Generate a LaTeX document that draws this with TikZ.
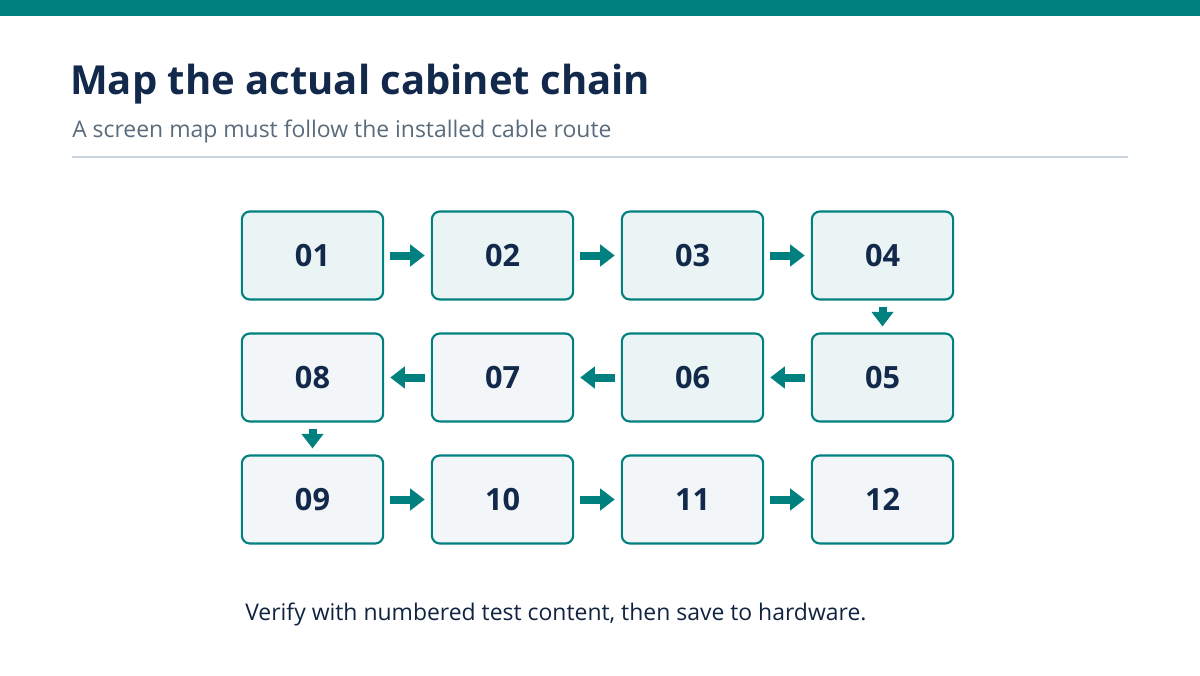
\documentclass[tikz,border=0pt]{standalone}
\usepackage{fontspec}
\setmainfont{Open Sans}
\usetikzlibrary{arrows.meta}
\definecolor{teal0}{HTML}{00807F}
\definecolor{navy}{HTML}{13294B}
\definecolor{subgray}{HTML}{5A6B7B}
\definecolor{rulegray}{HTML}{CBD5E0}
\definecolor{fillA}{HTML}{EAF4F4}
\definecolor{fillB}{HTML}{F3F6F8}
\tikzset{
  cab/.style={draw=teal0, line width=1.6pt, rounded corners=6pt, minimum width=106pt, minimum height=66pt,
    font=\fontsize{23}{27}\selectfont\bfseries, text=navy, text depth=0pt},
  cabA/.style={cab, fill=fillA},
  cabB/.style={cab, fill=fillB},
  link/.style={draw=teal0, line width=6pt, -{Triangle[length=11pt,width=16pt]}, shorten <=4.5pt, shorten >=4.5pt}
}
\begin{document}
\begin{tikzpicture}[x=0.75pt,y=-0.75pt]

        %===========================
        % Frame
        %===========================
        \useasboundingbox (0,0) rectangle (1200,675);
        \fill[white] (0,0) rectangle (1200,675);
        \fill[teal0] (0,0) rectangle (1200,16);
        \node (title) [anchor=west, text=navy, font=\fontsize{30}{36}\selectfont\bfseries, inner sep=0pt] at (70,84) {Map the actual cabinet chain};
        \node (sub) [anchor=west, text=subgray, font=\fontsize{17.2}{20}\selectfont, inner sep=0pt] at (72,131) {A screen map must follow the installed cable route};
        \draw[rulegray, line width=1.2pt] (72,157) -- (1128,157);

        %===========================
        % Cabinets
        %===========================
        \node (c01) [cabA] at (312.5,255.5) {01};
        \node (c02) [cabA] at (502.5,255.5) {02};
        \node (c03) [cabA] at (692.5,255.5) {03};
        \node (c04) [cabA] at (882.5,255.5) {04};

        \node (c05) [cabA] at (882.5,377.5) {05};
        \node (c06) [cabA] at (692.5,377.5) {06};
        \node (c07) [cabB] at (502.5,377.5) {07};
        \node (c08) [cabB] at (312.5,377.5) {08};

        \node (c09) [cabB] at (312.5,499.5) {09};
        \node (c10) [cabB] at (502.5,499.5) {10};
        \node (c11) [cabB] at (692.5,499.5) {11};
        \node (c12) [cabB] at (882.5,499.5) {12};

        %===========================
        % Cable route
        %===========================
        \draw[link] (c01) -- (c02);
        \draw[link] (c02) -- (c03);
        \draw[link] (c03) -- (c04);
        \draw[link] (c04) -- (c05);
        \draw[link] (c05) -- (c06);
        \draw[link] (c06) -- (c07);
        \draw[link] (c07) -- (c08);
        \draw[link] (c08) -- (c09);
        \draw[link] (c09) -- (c10);
        \draw[link] (c10) -- (c11);
        \draw[link] (c11) -- (c12);

        \node (note) [anchor=west, text=navy!85!black, font=\fontsize{17.2}{20}\selectfont, inner sep=0pt] at (245,614) {Verify with numbered test content, then save to hardware.};
\end{tikzpicture}
\end{document}
